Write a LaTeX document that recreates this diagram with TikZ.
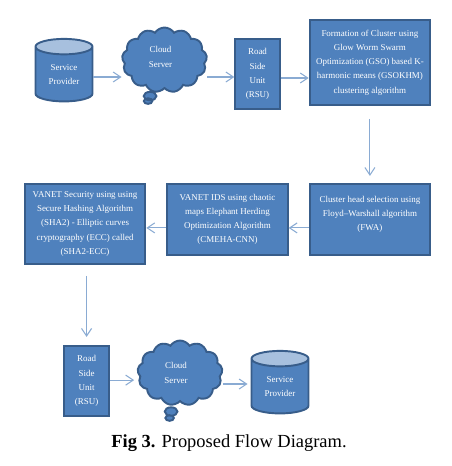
\documentclass[tikz,border=0pt]{standalone}
\usepackage{xcolor}
\usepackage{fontspec}
\setmainfont{Liberation Serif}
\usepackage{tikz}
\usetikzlibrary{shapes,shapes.callouts,arrows.meta,positioning,calc}

\definecolor{boxfill}{HTML}{4F81BD}
\definecolor{boxline}{HTML}{385D8A}
\definecolor{lidfill}{HTML}{A7C0DE}
\definecolor{arrline}{HTML}{8AABD3}

\begin{document}
\begin{tikzpicture}[
    b1/.style={rectangle, draw=boxline, fill=boxfill, line width=1.1pt, align=center, text=white, font=\fontsize{5.1}{8.1}\selectfont, inner sep=0pt},
    rsu/.style={b1, minimum width=0.89cm, minimum height=1.41cm},
    stage/.style={b1, minimum width=2.41cm, minimum height=1.42cm},
    store/.style={cylinder, shape border rotate=90, aspect=0.5, draw=boxline, line width=1.1pt, cylinder uses custom fill, cylinder body fill=boxfill, cylinder end fill=lidfill, align=center, text=white, font=\fontsize{5.1}{8.1}\selectfont, minimum width=1.14cm, minimum height=1.25cm, inner sep=0pt},
    srv/.style={cloud callout, cloud puffs=13, cloud puff arc=115, aspect=1.25, callout pointer segments=2, draw=boxline, fill=boxfill, line width=1.1pt, minimum width=1.7cm, minimum height=1.3cm, inner sep=0pt},
    lbl/.style={align=center, text=white, font=\fontsize{5.1}{8.1}\selectfont, inner sep=0pt},
    arr/.style={-{Straight Barb[length=1.5mm, width=2mm]}, line width=0.6pt, draw=arrline}
]
    \path [use as bounding box] (0,0) rectangle (9.02,-9.32);

    \node [store] (sp1) at (1.28,-1.49) {Service\\Provider};
    \node [srv, callout relative pointer={(-0.08,-0.2)}, label={[lbl, xshift=-0.08cm, yshift=0.06cm]center:Cloud\\Server}] (cs1) at (3.29,-1.2) {};
    \node [rsu] (rsu1) at (5.15,-1.48) {Road\\Side\\Unit\\(RSU)};
    \node [stage, minimum height=1.7cm, right=0.56cm of rsu1, yshift=0.23cm] (fm) {Formation of Cluster using\\Glow Worm Swarm\\Optimization (GSO) based K-\\harmonic means (GSOKHM)\\clustering algorithm};
    \node [stage, below=1.54cm of fm] (ch) {Cluster head selection using\\Floyd--Warshall algorithm\\(FWA)\\[-0.04cm]};
    \node [stage, left=0.4cm of ch] (ids) {VANET IDS using chaotic\\maps Elephant Herding\\Optimization Algorithm\\(CMEHA-CNN)};
    \node [stage, minimum height=1.6cm, left=0.4cm of ids, yshift=-0.09cm] (sec) {VANET Security using using\\Secure Hashing Algorithm\\(SHA2) - Elliptic curves\\cryptography (ECC) called\\(SHA2-ECC)};
    \node [rsu, below=1.6cm of sec, xshift=0.03cm] (rsu2) {Road\\Side\\Unit\\(RSU)};
    \node [srv, callout relative pointer={(-0.06,-0.26)}, label={[lbl, xshift=-0.08cm]center:Cloud\\Server}] (cs2) at (3.6,-7.46) {};
    \node [store] (sp2) at (5.6,-7.73) {Service\\Provider};
    \node [font=\fontsize{10.5}{12}\selectfont, inner sep=0pt] (cap) at (4.58,-8.86) {\textbf{Fig 3.} Proposed Flow Diagram.};

    \draw [arr] ([yshift=-0.05cm]sp1.east) -- ([yshift=-0.05cm]sp1.east -| cs1.west);
    \draw [arr] ([yshift=-0.34cm]cs1.east) -- ([yshift=-0.34cm]cs1.east -| rsu1.west);
    \draw [arr] ([yshift=-0.08cm]rsu1.east) -- ([yshift=-0.08cm]rsu1.east -| fm.west);
    \draw [arr, shorten <=0.26cm, shorten >=0.14cm] (fm) -- (ch);
    \draw [arr] ([yshift=-0.17cm]ch.west) -- ([yshift=-0.17cm]ch.west -| ids.east);
    \draw [arr] ([yshift=-0.17cm]ids.west) -- ([yshift=-0.17cm]ids.west -| sec.east);
    \draw [arr, shorten <=0.22cm, shorten >=0.16cm] (sec.south -| rsu2.north) -- (rsu2.north);
    \draw [arr, shorten >=0.06cm] ([yshift=0.02cm]rsu2.east) -- ([yshift=0.02cm]rsu2.east -| cs2.west);
    \draw [arr, shorten >=0.06cm] ([yshift=-0.22cm]cs2.east) -- ([yshift=-0.22cm]cs2.east -| sp2.west);
\end{tikzpicture}
\end{document}
